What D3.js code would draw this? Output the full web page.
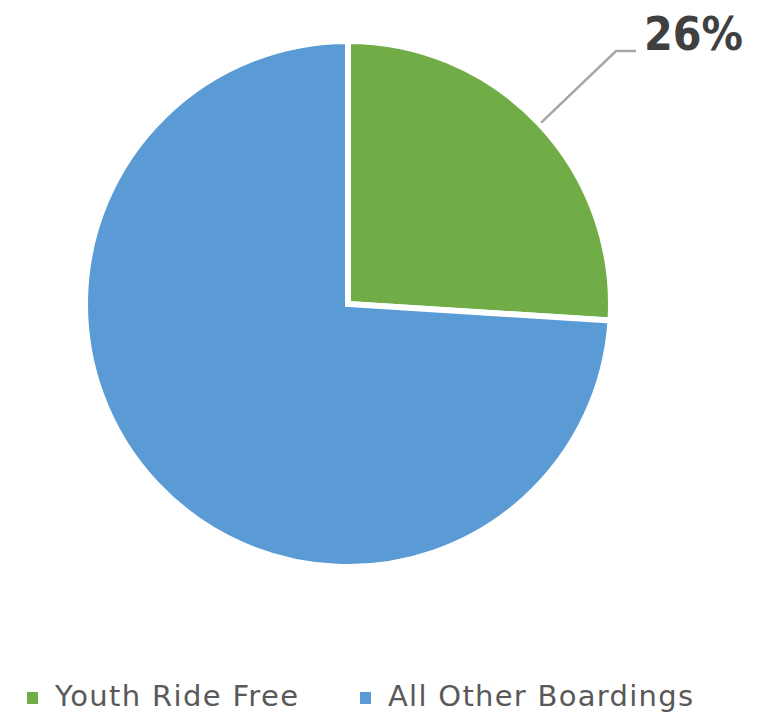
<!DOCTYPE html>
<html>
<head>
<meta charset="utf-8">
<script src="https://cdn.jsdelivr.net/npm/d3@7"></script>
<style>
  body { margin: 0; background: #fff; }
</style>
</head>
<body>
<div id="chart"></div>
<script>
const categories = ['Youth Ride Free', 'All Other Boardings']
const values = [26, 74]
const colors = ['#70ad47', '#5b9bd5']

const width = 757
const height = 717
const cx = 348
const cy = 304
const radius = 263

const svg = d3.select('#chart').append('svg')
    .attr('width', width)
    .attr('height', height)

const pie = d3.pie().sort(null).value(d => d)
const arcs = pie(values)
const arc = d3.arc().innerRadius(0).outerRadius(radius)

const g = svg.append('g').attr('transform', `translate(${cx},${cy})`)

g.selectAll('path')
    .data(arcs)
    .enter()
    .append('path')
    .attr('d', arc)
    .attr('fill', (d, i) => colors[i])
    .attr('stroke', 'white')
    .attr('stroke-width', 6)
    .attr('stroke-linejoin', 'miter')

// leader line + label for the first slice
const first = arcs[0]
const mid = (first.startAngle + first.endAngle) / 2
const r0 = radius + 2
const p0 = [Math.sin(mid) * r0, -Math.cos(mid) * r0]
const p1 = [268, -253]
const p2 = [288, -253]

g.append('polyline')
    .attr('points', [p0, p1, p2].map(p => p.join(',')).join(' '))
    .attr('fill', 'none')
    .attr('stroke', '#a6a6a6')
    .attr('stroke-width', 2.5)

g.append('text')
    .attr('x', p2[0] + 8)
    .attr('y', -254)
    .attr('font-family', 'DejaVu Sans')
    .attr('font-weight', 'bold')
    .attr('font-size', 47)
    .attr('fill', '#404040')
    .attr('textLength', 99)
    .attr('lengthAdjust', 'spacingAndGlyphs')
    .text(values[0] + '%')

// legend
const legendX = [27, 360]
const legendW = [243, 305]
const legend = svg.append('g')
    .selectAll('g')
    .data(categories)
    .enter()
    .append('g')
    .attr('transform', (d, i) => `translate(${legendX[i]},0)`)

legend.append('rect')
    .attr('x', 0)
    .attr('y', 692)
    .attr('width', 11)
    .attr('height', 12)
    .attr('fill', (d, i) => colors[i])

legend.append('text')
    .attr('x', 28)
    .attr('y', 706)
    .attr('font-family', 'DejaVu Sans')
    .attr('font-size', 29)
    .attr('fill', '#595959')
    .attr('textLength', (d, i) => legendW[i])
    .attr('lengthAdjust', 'spacing')
    .text(d => d)
</script>
</body>
</html>
